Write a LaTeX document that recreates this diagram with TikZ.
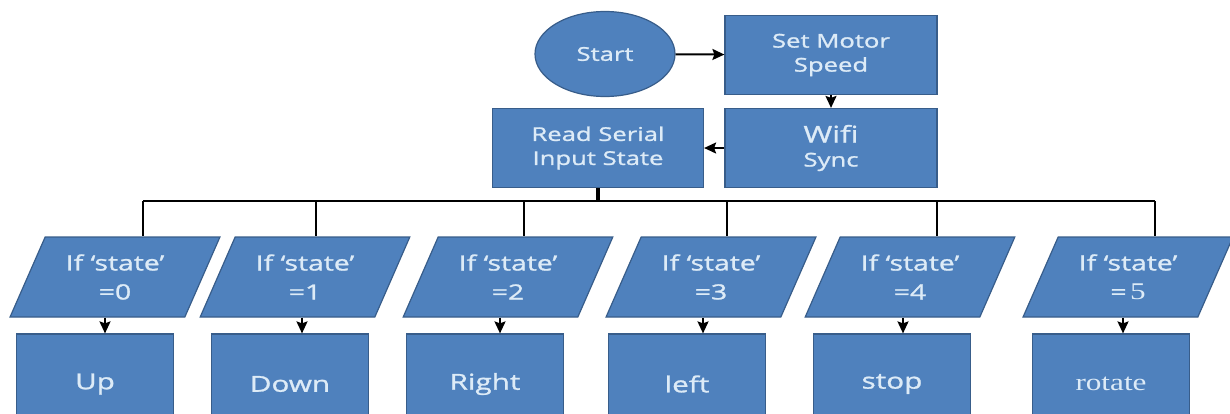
\documentclass[tikz,border=0pt]{standalone}
\usepackage{fontspec}
\setmainfont{Open Sans}[FakeStretch=1.35,FakeBold=1.2]
\newfontfamily\timesface{Liberation Serif}[FakeStretch=1.3]
\usetikzlibrary{shapes.geometric,arrows.meta}
\definecolor{boxblue}{HTML}{4F81BD}
\definecolor{boxedge}{HTML}{385D8A}
\definecolor{boxtext}{HTML}{DDEBF7}

\begin{document}
\begin{tikzpicture}[x=1pt,y=-1pt,
    block/.style={rectangle, draw=boxedge, fill=boxblue, line width=1.2pt,
            text=boxtext, align=center, minimum width=212pt, minimum height=79pt,
            font=\fontsize{19}{24}\selectfont},
    cond/.style={trapezium, trapezium left angle=63, trapezium right angle=117,
            trapezium stretches=true, draw=boxedge, fill=boxblue, line width=1.2pt,
            text=boxtext, align=center, minimum width=210pt, minimum height=80pt,
            font=\fontsize{21}{29}\selectfont},
    act/.style={rectangle, draw=boxedge, fill=boxblue, line width=1.2pt,
            text=boxtext, minimum width=157pt, minimum height=100pt,
            font=\fontsize{22}{26}\selectfont},
    flow/.style={-{Stealth[length=12pt,width=11pt,inset=2pt]}, line width=2pt}]
  \useasboundingbox (0,0) rectangle (1230,413);
  \clip (0,0) rectangle (1230,413);

  \node[ellipse, draw=boxedge, fill=boxblue, line width=1.2pt, text=boxtext,
        minimum width=140pt, minimum height=85pt,
        font=\fontsize{19}{24}\selectfont] (start) at (605,54) {Start};
  \node[block] (motor) at (831,55) {Set Motor\\Speed};
  \node[block] (wifi) at (831,148) {{\fontsize{23}{27}\selectfont Wifi}\\Sync};
  \node[block, minimum width=211pt] (read) at (598,148) {Read Serial\\Input State};

  \draw[flow] (start) -- (motor);
  \draw[flow] (motor) -- (wifi);
  \draw[flow] (wifi) -- (read);

  % one column per state
  \foreach \i/\px/\dx/\ax/\bx/\val/\res in {
      0/115/143/105/95/{=0}/Up,
      1/305/316/302/290/{=1}/Down,
      2/508/524/500/485/{=2}/Right,
      3/711/727/703/687/{=3}/left,
      4/910/937/903/892/{=4}/stop,
      5/1128/1155/1123/1111/{=\,{\timesface\fontsize{24}{29}\selectfont 5}}/{\timesface\fontsize{24}{26}\selectfont rotate}} {
    \node[cond] (p\i) at (\px,277) {If `state'\\\val};
    \node[act] (b\i) at (\bx,384) {\res};
    \coordinate (d\i) at (\dx,201);
    \coordinate (a\i) at (\ax,0);
    \draw[line width=2.5pt] (d\i) -- (d\i |- p\i.north);
    \draw[flow] (p\i.south -| a\i) -- (b\i.north -| a\i);
  }
  \draw[line width=2.5pt] (d0) -- (d5);
  \draw[line width=4pt] (read.south) -- (read.south |- d0);
\end{tikzpicture}
\end{document}
